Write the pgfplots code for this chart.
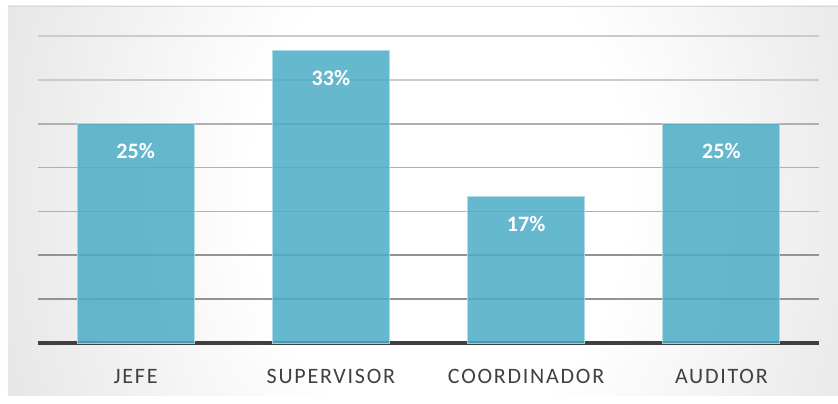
\documentclass[border=0pt]{standalone}
\usepackage{pgfplots}
\pgfplotsset{compat=1.18}
\usepackage{fontspec}
\setmainfont{Carlito}
\newfontfamily\catfont[LetterSpace=8]{Carlito}
\definecolor{barc}{HTML}{4BACC6}
\definecolor{txt}{HTML}{404040}
\definecolor{bgedge}{HTML}{C8C8C8}
\definecolor{bgcorner}{HTML}{BCBCBC}
\definecolor{gdark}{HTML}{939393}
\definecolor{gmid}{HTML}{B0B0B0}
\definecolor{glight}{HTML}{CBCBCB}
\pgfdeclareradialshading{bgshade}{\pgfpoint{0bp}{0bp}}{color(0bp)=(white); color(10bp)=(white); color(42.5bp)=(bgedge); color(50bp)=(bgcorner)}
\begin{document}
\begin{tikzpicture}
\begin{scope}
\clip (-30bp,-52bp) rectangle (800bp,337bp);
\shade[shading=bgshade] (402bp,153bp) ellipse [x radius=470bp, y radius=600bp];
\end{scope}
\draw[gray!30, line width=0.75bp] (-30bp,337bp) -- (800bp,337bp);
\begin{axis}[
  at={(0,0)}, anchor=south west,
  scale only axis, width=781bp, height=307bp,
  xmin=-0.5, xmax=3.5, ymin=0, ymax=35,
  axis x line*=bottom, axis y line*=left,
  y axis line style={draw=none},
  x axis line style={line width=3.5bp, draw=txt, -},
  major tick length=0pt, minor tick length=0pt,
  ytick={5,10}, minor ytick={30,35},
  extra y ticks={15,20,25},
  extra y tick style={major grid style={draw=gmid, line width=1.6bp}, yticklabel=\empty},
  yticklabel=\empty,
  ymajorgrids, yminorgrids,
  major grid style={draw=gdark, line width=1.6bp},
  minor grid style={draw=glight, line width=1.6bp},
  xtick=data,
  xticklabels={JEFE, SUPERVISOR, COORDINADOR, AUDITOR},
  xticklabel style={font=\catfont\fontsize{22bp}{24bp}\selectfont, text=txt, anchor=center, yshift=-33.5bp},
  ybar, bar width=0.6,
  nodes near coords, point meta=explicit symbolic,
  every node near coord/.append style={font=\bfseries\fontsize{22bp}{24bp}\selectfont, text=white, text opacity=1, anchor=center, yshift=-27.5bp},
]
\addplot[fill=barc, fill opacity=0.85, draw=white!55!barc, draw opacity=0.9, line width=1bp]
  coordinates {(0,25) [25\%] (1,33.33) [33\%] (2,16.67) [17\%] (3,25) [25\%]};
\end{axis}
\pgfresetboundingbox
\useasboundingbox (-38bp,-61bp) rectangle (800bp,343bp);
\end{tikzpicture}
\end{document}
